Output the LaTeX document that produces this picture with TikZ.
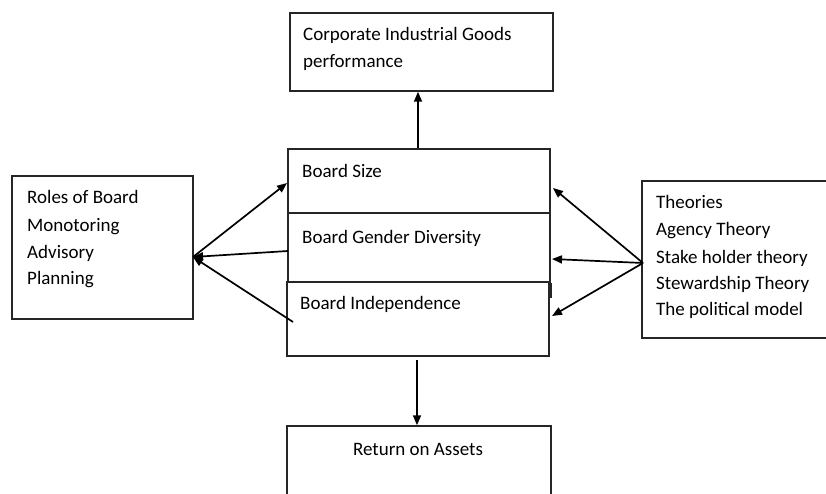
\documentclass[tikz,border=0pt]{standalone}
\usepackage{fontspec}
\setmainfont{Carlito}
\usetikzlibrary{arrows.meta,positioning}
\begin{document}
\begin{tikzpicture}[x=1pt,y=-1pt,
  box/.style={draw=black!85, line width=1.5pt, rectangle, inner sep=0pt},
  lbl/.style={anchor=base west, inner sep=0pt, font=\fontsize{19}{26.5}\selectfont, text=black},
  arr/.style={draw=black, line width=1.7pt, -{Triangle[length=10pt,width=8pt]}}]
\useasboundingbox (0,0) rectangle (826,494);
\clip (0,0) rectangle (826,494);
% boxes
\node[box, minimum width=263pt, minimum height=78pt] (top) at (421.5,52) {};
\node[box, minimum width=262pt, minimum height=64pt] (bs) at (419,181) {};
\node[box, minimum width=262pt, minimum height=69pt] (bg) at (419,247.5) {};
\node[box, minimum width=262pt, minimum height=74pt] (bi) at (418,319) {};
\node[box, minimum width=264pt, minimum height=90pt] (roa) at (419,471) {};
\node[box, minimum width=181pt, minimum height=143pt] (roles) at (102.5,247.5) {};
\node[box, minimum width=200pt, minimum height=157pt] (theo) at (742,259.5) {};
\draw[black!85, line width=1.5pt] (bg.south east) -- ++(0,15);
% texts
\node[lbl] (t1) at (303,41) {Corporate Industrial Goods};
\node[lbl] (t2) at (303,68) {performance};
\node[lbl] (t3) at (302,178) {Board Size};
\node[lbl] (t4) at (302,243) {Board Gender Diversity};
\node[lbl] (t5) at (300,309) {Board Independence};
\node[lbl, anchor=base] (t6) at (418,455) {Return on Assets};
\node[lbl] (r1) at (27,204) {Roles of Board};
\node[lbl] (r2) at (27,231) {Monotoring};
\node[lbl] (r3) at (27,258) {Advisory};
\node[lbl] (r4) at (27,284) {Planning};
\node[lbl] (h1) at (656,209) {Theories};
\node[lbl] (h2) at (656,236) {Agency Theory};
\node[lbl] (h3) at (656,263) {Stake holder theory};
\node[lbl] (h4) at (656,289) {Stewardship Theory};
\node[lbl] (h5) at (656,315) {The political model};
% connector points
\coordinate (rtip) at (193,257);
\coordinate (bsL) at (287,183);
\coordinate (bgL) at (288,251);
\coordinate (biL) at (293,322);
\coordinate (tsrc) at (643,263);
\coordinate (bsR) at (553,188);
\coordinate (bgR) at (552,259);
\coordinate (biR) at (552,316);
\coordinate (bot) at (417,360);
% connectors
\draw[arr] (bs.north -| 418,0) -- (top.south -| 418,0);
\draw[arr] (bot) -- (roa.north -| bot);
\draw[arr] (rtip) -- (bsL);
\draw[arr] (bgL) -- (rtip);
\draw[arr] (biL) -- (rtip);
\draw[arr] (tsrc) -- (bsR);
\draw[arr] (tsrc) -- (bgR);
\draw[arr] (tsrc) -- (biR);
\end{tikzpicture}
\end{document}
